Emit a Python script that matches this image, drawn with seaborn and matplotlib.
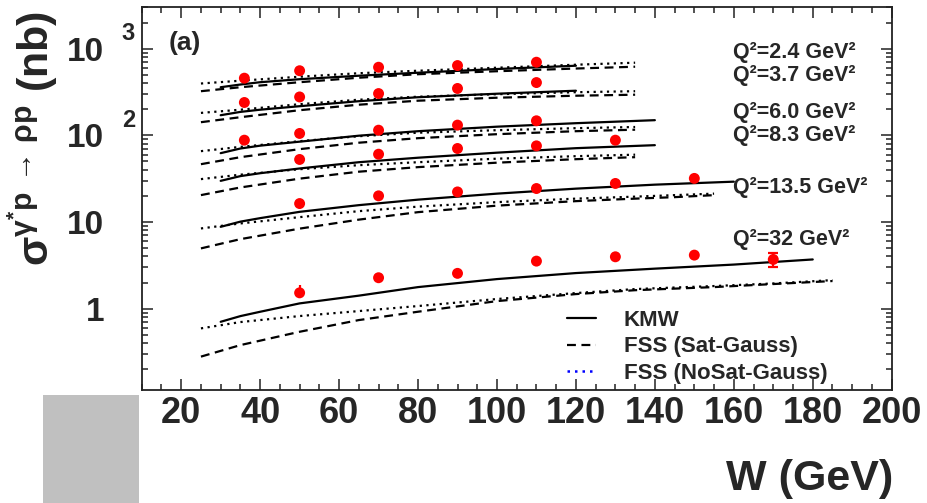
import matplotlib
matplotlib.use("Agg")
import matplotlib.pyplot as plt
from matplotlib.lines import Line2D
from matplotlib.patches import Rectangle
from matplotlib.ticker import MultipleLocator, LogLocator, NullFormatter
import seaborn as sns

# measured sigma(gamma* p -> rho p) in nb, one set per Q^2 bin
w_q24 = [36, 50, 70, 90, 110]
sig_q24 = [456, 556, 610, 638, 697]
w_q37 = [36, 50, 70, 90, 110]
sig_q37 = [239, 277, 303, 347, 406]
w_q60 = [36, 50, 70, 90, 110]
sig_q60 = [87.8, 105, 114.5, 131, 147]
w_q83 = [50, 70, 90, 110, 130]
sig_q83 = [52.6, 60.5, 70.4, 75.5, 87.8]
w_q135 = [50, 70, 90, 110, 130, 150]
sig_q135 = [16.3, 20.0, 22.2, 24.3, 27.8, 31.8]
w_q32 = [50, 70, 90, 110, 130, 150, 170]
sig_q32 = [1.52, 2.27, 2.55, 3.53, 3.96, 4.14, 3.69]
# the two visible error bars (Q^2 = 32)
w_err = [50, 170]
sig_err = [1.52, 3.69]
err_lo = [0.1, 0.71]
err_hi = [0.35, 0.71]

# KMW model curves
w_kmw = [30, 35, 40, 50, 65, 80, 100, 120, 140, 160, 180]
kmw_q24 = [358.7, 385.4, 409.8, 443.8, 486.9, 527.3, 581.8, 635]
kmw_q37 = [170.5, 186.2, 197.4, 216.6, 247.4, 275, 301.8, 326.9]
kmw_q60 = [62.2, 70.4, 75.9, 84.4, 98.9, 111.5, 125.7, 137.9, 149.4]
kmw_q83 = [29.8, 33.8, 36.5, 41.4, 48.9, 55.1, 63.0, 71.0, 76.9]
kmw_q135 = [8.78, 10.08, 11.06, 13.08, 15.62, 18.08, 21.21, 24.22, 26.93, 29.16]
kmw_q32 = [0.704, 0.819, 0.919, 1.148, 1.41, 1.77, 2.19, 2.57, 2.89, 3.22, 3.69]

# FSS model curves (saturated and non-saturated Gaussian)
w_fss = [25, 35, 50, 65, 80, 100, 120, 135, 145, 155, 170, 185]
sat_q24 = [322.7, 358.7, 409.8, 461.7, 506.7, 548.7, 589.6, 618.4]
nosat_q24 = [395.9, 426.5, 474.2, 520.4, 556, 602.3, 652.3, 688]
sat_q37 = [141.6, 161.7, 194.8, 225.4, 250.7, 271.4, 286.2, 294.0]
nosat_q37 = [181.3, 197.4, 228.4, 257.4, 278.7, 297.9, 314.2, 322.7]
sat_q60 = [46.4, 55.9, 69.2, 82.1, 92.6, 103.0, 111.5, 116.0]
nosat_q60 = [65.6, 73.5, 85.5, 97.6, 107.1, 114.5, 120.8, 124.6]
sat_q83 = [20.4, 25.0, 31.6, 38.0, 42.9, 48.3, 53.0, 55.9]
nosat_q83 = [31.2, 35.1, 40.6, 45.2, 48.9, 53.7, 57.4, 59.7]
sat_q135 = [4.95, 6.33, 8.37, 10.63, 12.97, 15.42, 17.38, 18.57, 19.32, 20.38]
nosat_q135 = [8.41, 9.61, 11.36, 13.32, 15.02, 16.92, 18.57, 19.58, 20.38, 21.21]
sat_q32 = [0.279, 0.379, 0.54, 0.737, 0.92, 1.22, 1.47, 1.63, 1.70, 1.77, 1.92, 2.08]
nosat_q32 = [0.591, 0.699, 0.82, 0.936, 1.07, 1.29, 1.51, 1.68, 1.75, 1.82, 1.95, 2.13]

q2_labels = ["Q²=2.4 GeV²", "Q²=3.7 GeV²", "Q²=6.0 GeV²",
             "Q²=8.3 GeV²", "Q²=13.5 GeV²", "Q²=32 GeV²"]
legend_labels = ["KMW", "FSS (Sat-Gauss)", "FSS (NoSat-Gauss)"]

sns.set_style("ticks")
plt.rcParams["font.family"] = ["Liberation Sans", "DejaVu Sans"]
plt.rcParams["font.weight"] = "bold"
plt.rcParams["mathtext.fontset"] = "custom"
plt.rcParams["mathtext.rm"] = "Liberation Sans"
plt.rcParams["mathtext.it"] = "Liberation Sans:italic"
plt.rcParams["mathtext.bf"] = "Liberation Sans:bold"

DASH = (0, (4, 2.5))
DOT = (0, (1, 2))

fig = plt.figure(figsize=(9.27, 5.03), dpi=100)
ax = fig.add_axes([0.1529, 0.2247, 0.809, 0.7608])
ax.set_yscale("log")

kmw_sets = [kmw_q24, kmw_q37, kmw_q60, kmw_q83, kmw_q135, kmw_q32]
sat_sets = [sat_q24, sat_q37, sat_q60, sat_q83, sat_q135, sat_q32]
nosat_sets = [nosat_q24, nosat_q37, nosat_q60, nosat_q83, nosat_q135, nosat_q32]

for kmw, sat, nosat in zip(kmw_sets, sat_sets, nosat_sets):
    sns.lineplot(x=w_kmw[:len(kmw)], y=kmw, ax=ax, color="black", lw=1.6,
                 errorbar=None, sort=False)
    sns.lineplot(x=w_fss[:len(sat)], y=sat, ax=ax, color="black", lw=1.6,
                 linestyle=DASH, errorbar=None, sort=False)
    sns.lineplot(x=w_fss[:len(nosat)], y=nosat, ax=ax, color="black", lw=1.6,
                 linestyle=DOT, errorbar=None, sort=False)

point_sets = [(w_q24, sig_q24), (w_q37, sig_q37), (w_q60, sig_q60),
              (w_q83, sig_q83), (w_q135, sig_q135), (w_q32, sig_q32)]
for w, sig in point_sets:
    sns.scatterplot(x=w, y=sig, ax=ax, color="red", s=62, edgecolor="none",
                    zorder=5)

ax.errorbar(w_err[1:], sig_err[1:], yerr=[err_lo[1:], err_hi[1:]], fmt="none",
            ecolor="red", elinewidth=1.6, capsize=3.5, capthick=1.6, zorder=5)
ax.errorbar(w_err[:1], sig_err[:1], yerr=[err_lo[:1], err_hi[:1]], fmt="none",
            ecolor="red", elinewidth=1.6, capsize=0, zorder=5)

ax.set_xlim(10, 200)
ax.set_ylim(0.115, 3000)
ax.xaxis.set_major_locator(MultipleLocator(20))
ax.xaxis.set_minor_locator(MultipleLocator(5))
ax.set_yticks([1, 10, 100, 1000], labels=["1", "10", "10", "10"])
ax.yaxis.set_minor_locator(LogLocator(base=10, subs=range(2, 10)))
ax.yaxis.set_minor_formatter(NullFormatter())
ax.tick_params(which="both", direction="in", top=True, right=True,
               width=1.1, color="#222222")
ax.tick_params(which="major", length=8)
ax.tick_params(which="minor", length=4)
ax.tick_params(axis="x", which="major", labelsize=26, pad=4)
ax.tick_params(axis="y", which="major", labelsize=24, pad=27)
for lab in ax.get_xticklabels() + ax.get_yticklabels():
    lab.set_fontweight("bold")
for sp in ax.spines.values():
    sp.set_linewidth(1.3)
    sp.set_color("#222222")

# exponents of the 10^2 and 10^3 labels
for val, ex in [(100, "2"), (1000, "3")]:
    ax.annotate(ex, xy=(0, val), xycoords=("axes fraction", "data"),
                xytext=(-9.5, 10.8), textcoords="offset points", ha="center",
                va="center", fontsize=17, fontweight="bold",
                annotation_clip=False)

ax.set_ylabel(r"$\mathrm{\sigma^{\gamma^{*}p\,\rightarrow\,\rho p}}$ (nb)",
              fontsize=31, fontweight="bold", loc="top")
ax.yaxis.set_label_coords(-0.109, 0.99)
ax.set_xlabel("W (GeV)", fontsize=31, fontweight="bold", loc="right")
ax.xaxis.set_label_coords(1.002, -0.18)

for lab, yf in zip(q2_labels, [0.883, 0.823, 0.724, 0.666, 0.528, 0.392]):
    ax.text(0.788, yf, lab, transform=ax.transAxes, fontsize=15.5,
            fontweight="bold", ha="left", va="center")

ax.text(0.0577, 0.9067, "(a)", transform=ax.transAxes, fontsize=19,
        fontweight="bold", ha="center", va="center")

handles = [Line2D([], [], color="black", lw=1.6),
           Line2D([], [], color="black", lw=1.6, linestyle=DASH),
           Line2D([], [], color="blue", lw=1.8, linestyle=DOT)]
ax.legend(handles, legend_labels, loc="upper left", bbox_to_anchor=(0.567, 0.209),
          frameon=False, borderpad=0, borderaxespad=0, handlelength=1.3,
          handletextpad=1.25, labelspacing=0.24,
          prop={"weight": "bold", "size": 16})

fig.add_artist(Rectangle((43 / 927, 0), 96 / 927, 108 / 503,
                         transform=fig.transFigure, color="#c0c0c0", lw=0))

fig.savefig("out.png", dpi=100)
